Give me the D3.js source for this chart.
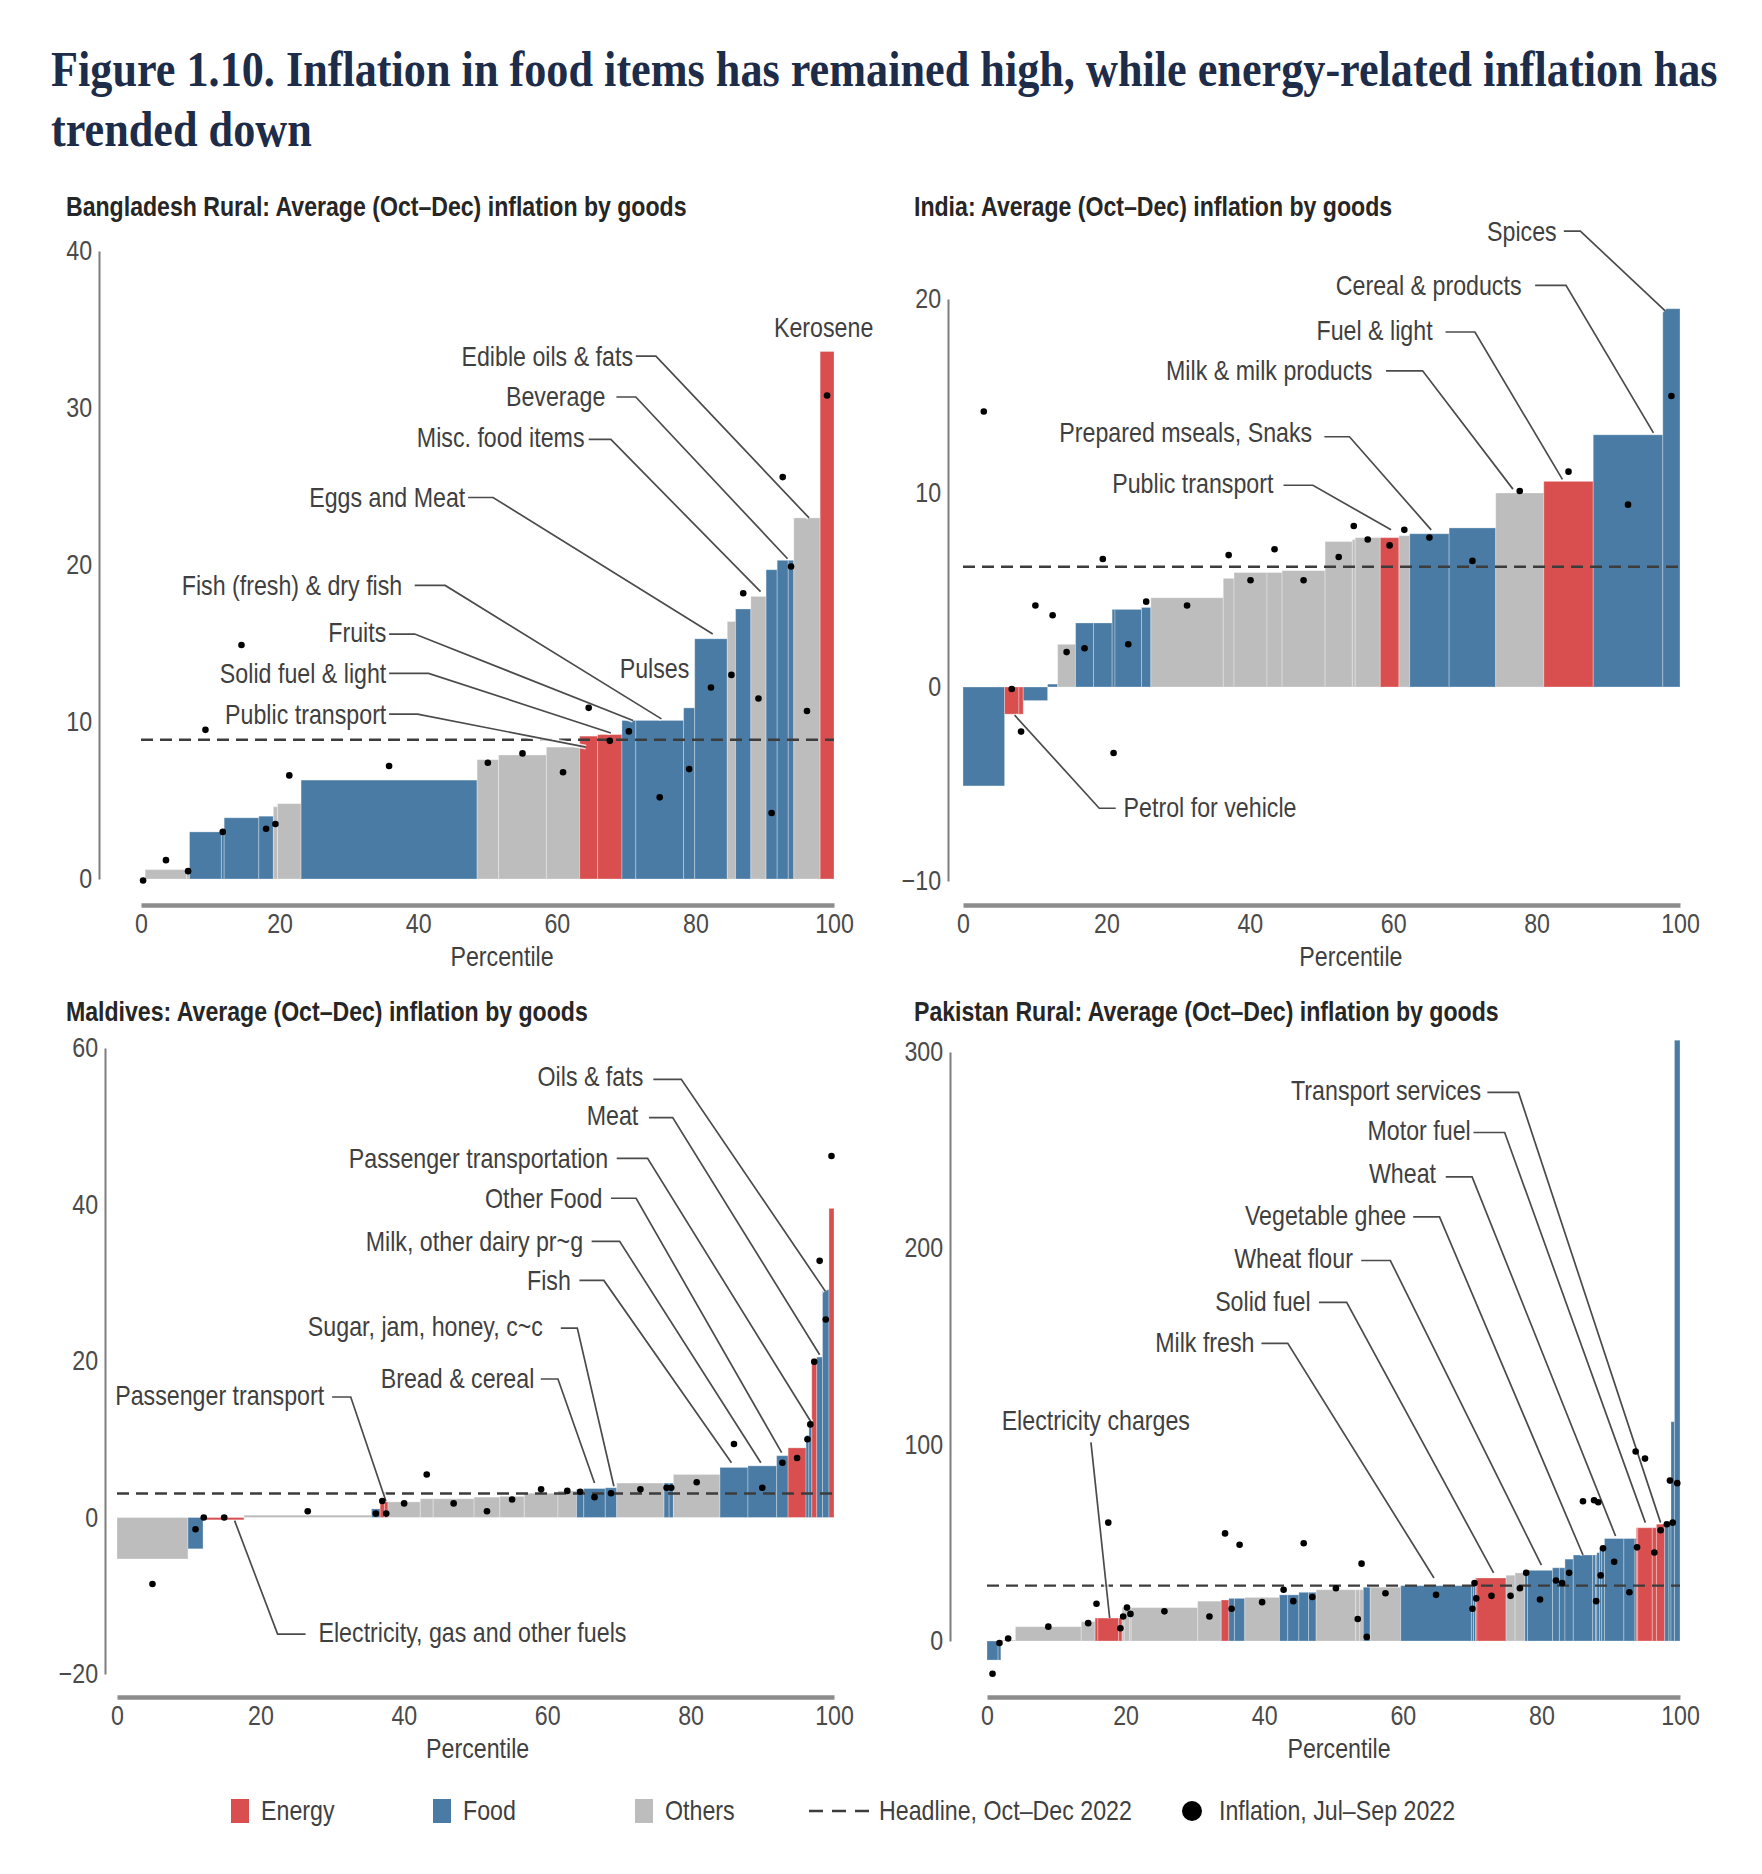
<!DOCTYPE html>
<html lang="en">
<head>
<meta charset="utf-8">
<title>Figure 1.10</title>
<script src="https://d3js.org/d3.v7.min.js"></script>
<style>
  html, body { margin: 0; background: #fff; }
  svg { display: block; }
  text { font-family: "Liberation Sans", Arial, sans-serif; fill: #3f3f3f; }
  .title { font-family: "Liberation Serif", "Times New Roman", serif; font-weight: bold; fill: #1d2c48; }
  .subtitle { font-weight: bold; fill: #262626; }
  .axis text { fill: #4a4a4a; }
</style>
</head>
<body>
<svg id="chart" width="1762" height="1874"></svg>
<script>
// ---- data: cumulative percentile (bar right edge), Oct-Dec inflation, category, Jul-Sep inflation ----
// E = energy, F = food, O = others

// Bangladesh Rural
var bdEnd   = [0.6, 6.6, 7.0, 11.6, 12.0, 17.0, 19.1, 19.7, 23.1, 48.5, 51.6, 58.5, 63.3, 65.9, 69.4, 71.4, 78.3, 79.9, 84.6, 85.8, 88.0, 90.2, 91.8, 93.4, 94.2, 98.0, 100];
var bdValue = [0.05, 0.6, 0.7, 3.0, 3.0, 3.9, 4.0, 4.6, 4.8, 6.3, 7.6, 7.9, 8.4, 9.1, 9.2, 10.1, 10.1, 10.9, 15.3, 16.4, 17.2, 18.0, 19.7, 20.3, 20.3, 23.0, 33.6];
var bdCat   = ["O","O","O","F","F","F","F","O","O","F","O","O","O","E","E","F","F","F","F","O","F","O","F","F","F","O","E"];
var bdPrev  = [-0.1, 1.2, 0.5, 9.5, 3.0, 14.9, 3.2, 3.5, 6.6, 7.2, 7.4, 8.0, 6.8, 10.9, 8.8, 9.4, 5.2, 7.0, 12.2, 13.0, 18.2, 11.5, 4.2, 25.6, 19.9, 10.7, 30.8];
var bdHeadline = 8.87;
var bdTicks = [0, 10, 20, 30, 40];

// India
var inEnd   = [5.8, 7.8, 8.4, 11.8, 13.2, 15.7, 18.2, 20.8, 21.2, 24.9, 26.2, 36.3, 37.8, 42.4, 44.5, 50.5, 54.3, 54.7, 58.2, 60.8, 62.3, 67.8, 74.3, 81.0, 87.9, 97.6, 100];
var inValue = [-5.1, -1.4, -1.4, -0.7, 0.15, 2.2, 3.3, 3.3, 4.0, 4.0, 4.1, 4.6, 5.6, 5.9, 5.9, 6.0, 7.5, 7.6, 7.7, 7.7, 7.8, 7.9, 8.2, 10.0, 10.6, 13.0, 19.5];
var inCat   = ["F","E","E","F","F","O","F","F","F","F","F","O","O","O","O","O","O","O","O","E","O","F","F","O","E","F","F"];
var inPrev  = [14.2, -0.1, -2.3, 4.2, 3.7, 1.8, 2.0, 6.6, -3.4, 2.2, 4.4, 4.2, 6.8, 5.5, 7.1, 5.5, 6.7, 8.3, 7.6, 7.3, 8.1, 7.7, 6.5, 10.1, 11.1, 9.4, 15.0];
var inHeadline = 6.2;
var inTicks = [-10, 0, 10, 20];

// Maldives
var mvEnd   = [9.9, 12.0, 12.2, 17.7, 35.5, 36.7, 37.3, 37.8, 42.3, 44.1, 49.8, 53.4, 56.8, 61.5, 64.1, 65.1, 68.1, 69.7, 76.3, 77.0, 77.6, 84.1, 88.0, 92.0, 93.6, 96.1, 96.5, 96.9, 97.6, 98.4, 99.3, 100];
var mvValue = [-5.3, -4.0, 0.0, -0.3, 0.3, 1.1, 2.0, 2.0, 2.0, 2.4, 2.4, 2.6, 2.7, 3.1, 3.4, 3.6, 3.7, 3.8, 4.4, 4.4, 4.4, 5.5, 6.4, 6.6, 7.9, 8.9, 10.5, 12.2, 20.3, 20.5, 29.1, 39.5];
var mvCat   = ["O","F","F","E","O","F","E","E","O","O","O","O","O","O","O","F","F","F","O","F","F","O","F","F","F","E","F","F","E","F","F","E"];
var mvPrev  = [-8.5, -1.5, 0.0, 0.0, 0.8, 0.5, 2.1, 0.5, 1.8, 5.5, 1.8, 0.8, 2.3, 3.6, 3.4, 3.3, 2.6, 3.1, 3.6, 3.8, 3.8, 4.5, 9.4, 3.8, 7.0, 7.6, 10.0, 11.9, 19.9, 32.8, 25.3, 46.2];
var mvHeadline = 3.06;
var mvTicks = [-20, 0, 20, 40, 60];

// Pakistan Rural
var pkEnd   = [1.6, 2.0, 4.1, 13.6, 15.6, 16.0, 19.0, 19.5, 19.8, 20.6, 20.8, 30.4, 33.8, 34.9, 35.7, 37.2, 42.2, 43.4, 45.0, 46.4, 47.5, 53.2, 53.8, 54.3, 55.3, 59.7, 69.9, 70.2, 70.5, 70.7, 74.9, 76.2, 77.6, 78.0, 81.6, 82.6, 83.4, 84.6, 87.4, 87.8, 88.0, 88.4, 88.7, 89.1, 91.9, 93.5, 93.7, 93.9, 96.0, 96.6, 97.8, 98.4, 98.7, 99.2, 100];
var pkValue = [-9.7, -9.7, 0.5, 7.3, 9.9, 11.7, 11.7, 11.7, 17.0, 17.0, 17.0, 17.0, 20.3, 20.9, 21.7, 21.7, 22.2, 23.5, 23.5, 24.8, 24.8, 26.1, 26.1, 26.1, 27.4, 27.4, 28.2, 28.5, 29.0, 32.1, 32.1, 33.5, 34.7, 36.0, 36.0, 37.3, 37.3, 41.7, 43.8, 43.8, 43.8, 45.0, 47.7, 47.7, 52.2, 52.2, 52.2, 57.7, 57.7, 57.7, 59.5, 60.3, 60.8, 111.7, 306];
var pkCat   = ["F","F","O","O","O","E","E","E","O","O","O","O","O","E","F","F","O","F","F","F","F","O","O","O","F","O","F","F","F","E","E","O","O","F","F","F","F","F","F","F","F","F","F","F","F","F","F","E","E","E","E","F","F","F","F"];
var pkPrev  = [-16.7, -1.0, 1.3, 7.3, 9.1, 19.0, 60.3, 6.5, 12.5, 17.0, 13.8, 15.1, 12.5, 54.8, 16.4, 49.0, 19.8, 26.1, 20.3, 49.8, 22.4, 26.9, 11.2, 39.4, 2.1, 24.3, 23.5, 16.4, 29.5, 21.7, 23.0, 23.0, 26.9, 34.7, 21.1, 30.8, 29.5, 34.7, 71.2, 71.7, 20.3, 70.7, 33.4, 47.2, 40.4, 24.8, 96.5, 47.7, 92.9, 45.1, 56.4, 59.5, 81.7, 60.3, 80.4];
var pkHeadline = 28.2;
var pkTicks = [0, 100, 200, 300];

var xTicks = [0, 20, 40, 60, 80, 100];

// ---- annotations (text anchor and leader points in percentile / inflation units) ----
var bdLabels = [
  {t: "Kerosene", at: [98.5, 35.1], anchor: "middle"},
  {t: "Pulses", at: [74.1, 13.4], anchor: "middle"},
  {t: "Edible oils & fats", at: [71.0, 33.3], anchor: "end", lead: [[71.4, 33.3], [74.3, 33.3], [96.4, 23.0]]},
  {t: "Beverage", at: [67.0, 30.7], anchor: "end", lead: [[68.6, 30.7], [71.4, 30.7], [93.3, 20.4]]},
  {t: "Misc. food items", at: [64.0, 28.1], anchor: "end", lead: [[64.6, 28.0], [67.8, 28.0], [89.4, 18.3]]},
  {t: "Eggs and Meat", at: [46.8, 24.3], anchor: "end", lead: [[47.2, 24.3], [50.8, 24.3], [82.5, 15.6]]},
  {t: "Fish (fresh) & dry fish", at: [37.7, 18.7], anchor: "end", lead: [[39.5, 18.7], [43.9, 18.7], [75.1, 10.2]]},
  {t: "Fruits", at: [35.4, 15.7], anchor: "end", lead: [[35.8, 15.6], [39.5, 15.6], [71.0, 10.1]]},
  {t: "Solid fuel & light", at: [35.4, 13.1], anchor: "end", lead: [[35.8, 13.1], [41.5, 13.1], [67.8, 9.3]]},
  {t: "Public transport", at: [35.4, 10.5], anchor: "end", lead: [[35.8, 10.5], [39.9, 10.5], [64.2, 8.4]]}
];
var inLabels = [
  {t: "Spices", at: [82.8, 23.5], anchor: "end", lead: [[83.8, 23.5], [86.1, 23.5], [97.9, 19.4]]},
  {t: "Cereal & products", at: [77.9, 20.7], anchor: "end", lead: [[79.8, 20.7], [84.1, 20.7], [96.3, 13.1]]},
  {t: "Fuel & light", at: [65.5, 18.4], anchor: "end", lead: [[67.3, 18.3], [71.4, 18.3], [83.6, 10.7]]},
  {t: "Milk & milk products", at: [57.1, 16.3], anchor: "end", lead: [[59.0, 16.3], [64.1, 16.3], [76.7, 10.2]]},
  {t: "Prepared mseals, Snaks", at: [48.7, 13.1], anchor: "end", lead: [[50.4, 12.9], [53.9, 12.9], [65.3, 8.1]]},
  {t: "Public transport", at: [43.3, 10.5], anchor: "end", lead: [[44.7, 10.4], [48.8, 10.4], [59.7, 8.1]]},
  {t: "Petrol for vehicle", at: [22.4, -6.2], anchor: "start", lead: [[21.3, -6.25], [19.0, -6.25], [7.2, -1.45]]}
];
var mvLabels = [
  {t: "Oils & fats", at: [73.4, 56.4], anchor: "end", lead: [[74.8, 56.0], [78.7, 56.0], [98.8, 28.9]]},
  {t: "Meat", at: [72.7, 51.4], anchor: "end", lead: [[74.2, 51.1], [77.5, 51.1], [98.0, 20.8]]},
  {t: "Passenger transportation", at: [68.5, 45.9], anchor: "end", lead: [[69.7, 45.9], [74.0, 45.9], [96.8, 12.2]]},
  {t: "Other Food", at: [67.7, 40.8], anchor: "end", lead: [[68.9, 40.8], [72.4, 40.8], [92.7, 8.3]]},
  {t: "Milk, other dairy pr~g", at: [65.0, 35.3], anchor: "end", lead: [[66.2, 35.3], [70.1, 35.3], [89.8, 7.0]]},
  {t: "Fish", at: [63.3, 30.3], anchor: "end", lead: [[64.5, 30.3], [67.9, 30.3], [85.7, 7.0]]},
  {t: "Sugar, jam, honey, c~c", at: [59.4, 24.4], anchor: "end", lead: [[61.9, 24.2], [64.2, 24.2], [69.3, 4.0]]},
  {t: "Bread & cereal", at: [58.2, 17.8], anchor: "end", lead: [[59.1, 17.7], [61.5, 17.7], [66.6, 4.4]]},
  {t: "Passenger transport", at: [28.9, 15.6], anchor: "end", lead: [[30.0, 15.4], [32.6, 15.4], [37.5, 2.1]]},
  {t: "Electricity, gas and other fuels", at: [28.1, -14.7], anchor: "start", lead: [[26.3, -14.9], [22.4, -14.9], [16.4, -0.4]]}
];
var pkLabels = [
  {t: "Transport services", at: [71.3, 280.5], anchor: "end", lead: [[72.2, 279.4], [76.7, 279.4], [97.2, 60.3]]},
  {t: "Motor fuel", at: [69.8, 259.8], anchor: "end", lead: [[70.2, 259.0], [74.7, 259.0], [95.0, 60.3]]},
  {t: "Wheat", at: [64.8, 238.2], anchor: "end", lead: [[66.2, 236.4], [70.0, 236.4], [90.7, 53.5]]},
  {t: "Vegetable ghee", at: [60.5, 216.5], anchor: "end", lead: [[61.5, 216.0], [65.3, 216.0], [86.0, 43.8]]},
  {t: "Wheat flour", at: [52.8, 194.6], anchor: "end", lead: [[54.0, 193.8], [58.2, 193.8], [80.0, 38.6]]},
  {t: "Solid fuel", at: [46.7, 173.0], anchor: "end", lead: [[47.9, 172.5], [51.9, 172.5], [73.1, 34.7]]},
  {t: "Milk fresh", at: [38.6, 152.1], anchor: "end", lead: [[39.6, 151.6], [43.4, 151.6], [64.5, 32.1]]},
  {t: "Electricity charges", at: [15.7, 112.4], anchor: "middle", lead: [[15.0, 101.2], [17.7, 11.7]]}
];

var catColor = {E: "#d94f4f", F: "#497ba4", O: "#bdbdbd"};
var legendKeys = ["Energy", "Food", "Others"];
var legendCats = ["E", "F", "O"];

// ---- layout ----
var SX = 0.86;        // horizontal squeeze: the source uses a condensed face
var LABEL_SIZE = 27;

var panels = [
  {name: "Bangladesh Rural: Average (Oct–Dec) inflation by goods", ends: bdEnd, values: bdValue, cats: bdCat, prev: bdPrev,
   headline: bdHeadline, ticks: bdTicks, labels: bdLabels, yDomain: [0, 40], xTitleAt: 52.1,
   xRange: [141, 834], yRange: [879, 251], axisX: 99, xAxisY: 905, titleX: 66, titleY: 207},
  {name: "India: Average (Oct–Dec) inflation by goods", ends: inEnd, values: inValue, cats: inCat, prev: inPrev,
   headline: inHeadline, ticks: inTicks, labels: inLabels, yDomain: [-10, 20], xTitleAt: 54.1,
   xRange: [963, 1680], yRange: [881, 299], axisX: 948, xAxisY: 905, titleX: 914, titleY: 207},
  {name: "Maldives: Average (Oct–Dec) inflation by goods", ends: mvEnd, values: mvValue, cats: mvCat, prev: mvPrev,
   headline: mvHeadline, ticks: mvTicks, labels: mvLabels, yDomain: [-20, 60], xTitleAt: 50.3,
   xRange: [117, 834], yRange: [1674, 1048], axisX: 105, xAxisY: 1697, titleX: 66, titleY: 1012},
  {name: "Pakistan Rural: Average (Oct–Dec) inflation by goods", ends: pkEnd, values: pkValue, cats: pkCat, prev: pkPrev,
   headline: pkHeadline, ticks: pkTicks, labels: pkLabels, yDomain: [0, 300], xTitleAt: 50.8,
   xRange: [987, 1680], yRange: [1641, 1052], axisX: 950, xAxisY: 1697, titleX: 914, titleY: 1012}
];

var svg = d3.select("#chart");

function squeezed(parent, x, y, str, anchor, sx) {
  return parent.append("text")
    .attr("transform", "translate(" + x + "," + y + ") scale(" + sx + ",1)")
    .attr("text-anchor", anchor)
    .attr("dy", "0.35em")
    .text(str);
}

// main title
var titleG = svg.append("g");
var t1 = titleG.append("text").attr("class", "title").attr("font-size", 50)
  .text("Figure 1.10. Inflation in food items has remained high, while energy-related inflation has");
var titleScale = 1667 / t1.node().getComputedTextLength();
t1.attr("transform", "translate(51,86) scale(" + titleScale + ",1)");
titleG.append("text").attr("class", "title").attr("font-size", 50)
  .attr("transform", "translate(51,146) scale(" + titleScale + ",1)")
  .text("trended down");

// subtitle squeeze measured on the first one
var probe = svg.append("text").attr("class", "subtitle").attr("font-size", 27).text(panels[0].name);
var subScale = 621 / probe.node().getComputedTextLength();
probe.remove();

function drawPanel(p) {
  var g = svg.append("g");
  var x = d3.scaleLinear().domain([0, 100]).range(p.xRange);
  var y = d3.scaleLinear().domain(p.yDomain).range(p.yRange);

  var items = p.ends.map(function(e, i) {
    return {x0: i === 0 ? 0 : p.ends[i - 1], x1: e, v: p.values[i], c: p.cats[i], prev: p.prev[i]};
  });

  squeezed(g, p.titleX, p.titleY, p.name, "start", subScale)
    .attr("class", "subtitle").attr("font-size", 27);

  // axes
  var yAxis = g.append("g").attr("class", "axis")
    .attr("transform", "translate(" + p.axisX + ",0)")
    .call(d3.axisLeft(y).tickValues(p.ticks).tickSize(0).tickSizeOuter(0).tickPadding(8)
      .tickFormat(function(d) { return d < 0 ? "−" + Math.abs(d) : d; }));
  yAxis.select(".domain").attr("stroke", "#7d7d7d").attr("stroke-width", 2);
  yAxis.selectAll(".tick text").attr("font-size", LABEL_SIZE).attr("transform", "scale(" + SX + ",1)");

  var xAxis = g.append("g").attr("class", "axis")
    .attr("transform", "translate(0," + p.xAxisY + ")")
    .call(d3.axisBottom(x).tickValues(xTicks).tickSize(0).tickSizeOuter(0).tickPadding(9));
  xAxis.select(".domain").attr("stroke", "#8c8c8c").attr("stroke-width", 4.5);
  xAxis.selectAll(".tick text").attr("font-size", LABEL_SIZE).attr("transform", "scale(" + SX + ",1)");
  squeezed(g, x(p.xTitleAt), p.xAxisY + 52, "Percentile", "middle", SX)
    .attr("font-size", LABEL_SIZE).attr("fill", "#4a4a4a");

  // bars
  g.append("g").selectAll("rect").data(items).join("rect")
    .attr("x", function(d) { return x(d.x0); })
    .attr("width", function(d) { return Math.max(0.6, x(d.x1) - x(d.x0)); })
    .attr("y", function(d) { return y(Math.max(0, d.v)); })
    .attr("height", function(d) { return Math.abs(y(d.v) - y(0)); })
    .attr("fill", function(d) { return catColor[d.c]; })
    .attr("stroke", "rgba(255,255,255,0.3)")
    .attr("stroke-width", 1);

  // headline
  g.append("line")
    .attr("x1", x(0)).attr("x2", x(100))
    .attr("y1", y(p.headline)).attr("y2", y(p.headline))
    .attr("stroke", "#3c3c3c").attr("stroke-width", 2.4)
    .attr("stroke-dasharray", "12,7");

  // leader lines
  var line = d3.line().x(function(d) { return x(d[0]); }).y(function(d) { return y(d[1]); });
  var leads = p.labels.filter(function(l) { return l.lead; });
  g.append("g").selectAll("path.halo").data(leads).join("path")
    .attr("d", function(l) { return line(l.lead); })
    .attr("fill", "none").attr("stroke", "rgba(255,255,255,0.8)").attr("stroke-width", 5);
  g.append("g").selectAll("path.lead").data(leads).join("path")
    .attr("d", function(l) { return line(l.lead); })
    .attr("fill", "none").attr("stroke", "#4b4b4b").attr("stroke-width", 1.7);

  // Jul-Sep dots
  g.append("g").selectAll("circle").data(items).join("circle")
    .attr("cx", function(d) { return x((d.x0 + d.x1) / 2); })
    .attr("cy", function(d) { return y(d.prev); })
    .attr("r", 3.3)
    .attr("fill", "#000");

  // label text
  p.labels.forEach(function(l) {
    squeezed(g, x(l.at[0]), y(l.at[1]), l.t, l.anchor, SX).attr("font-size", LABEL_SIZE);
  });
}

panels.forEach(drawPanel);

// legend
var legend = svg.append("g").attr("transform", "translate(0,1811)");
var keyX = d3.scalePoint().domain(legendKeys).range([231, 635]);
legendKeys.forEach(function(k, i) {
  legend.append("rect").attr("x", keyX(k)).attr("y", -12).attr("width", 18).attr("height", 24)
    .attr("fill", catColor[legendCats[i]]);
  squeezed(legend, keyX(k) + 30, 0, k, "start", SX).attr("font-size", LABEL_SIZE);
});
legend.append("line").attr("x1", 809).attr("x2", 869).attr("y1", 0).attr("y2", 0)
  .attr("stroke", "#3c3c3c").attr("stroke-width", 2.4).attr("stroke-dasharray", "14,9");
squeezed(legend, 879, 0, "Headline, Oct–Dec 2022", "start", SX).attr("font-size", LABEL_SIZE);
legend.append("circle").attr("cx", 1192).attr("cy", 0).attr("r", 10).attr("fill", "#000");
squeezed(legend, 1219, 0, "Inflation, Jul–Sep 2022", "start", SX).attr("font-size", LABEL_SIZE);
</script>
</body>
</html>
